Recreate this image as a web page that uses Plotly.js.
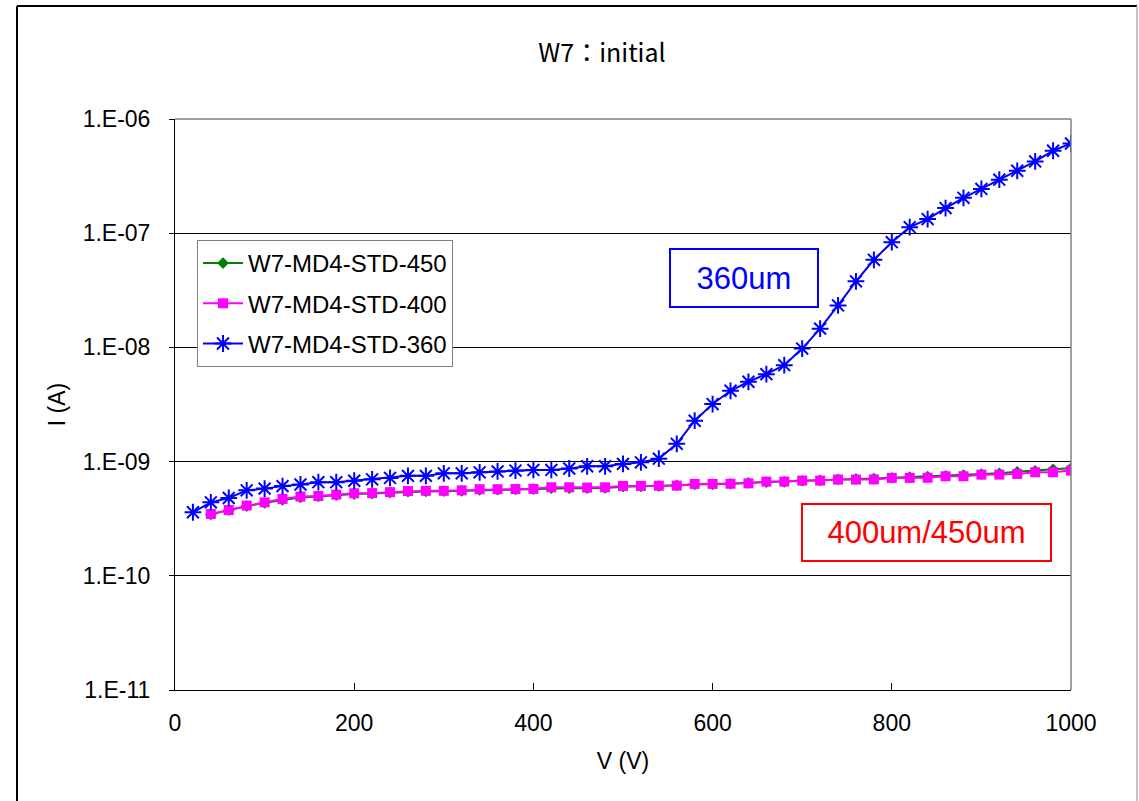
<!DOCTYPE html>
<html>
<head>
<meta charset="utf-8">
<script src="https://cdn.plot.ly/plotly-3.0.1.min.js"></script>
<style>
  html, body { margin: 0; padding: 0; background: #fff; }
  #chart { width: 1139px; height: 801px; }
</style>
</head>
<body>
<div id="chart"></div>
<script>
// ---- data ----
const voltsA = [40,60,80,100,120,140,160,180,200,220,240,260,280,300,320,340,360,380,400,420,440,460,480,500,520,540,560,580,600,620,640,660,680,700,720,740,760,780,800,820,840,860,880,900,920,940,960,980,1000];
const voltsB = [20,40,60,80,100,120,140,160,180,200,220,240,260,280,300,320,340,360,380,400,420,440,460,480,500,520,540,560,580,600,620,640,660,680,700,720,740,760,780,800,820,840,860,880,900,920,940,960,980,1000];

const current450 = [3.45e-10,3.75e-10,4.08e-10,4.35e-10,4.62e-10,4.85e-10,4.95e-10,5.08e-10,5.20e-10,5.25e-10,5.35e-10,5.45e-10,5.48e-10,5.50e-10,5.55e-10,5.65e-10,5.68e-10,5.70e-10,5.75e-10,5.85e-10,5.85e-10,5.85e-10,5.88e-10,6.02e-10,6.05e-10,6.10e-10,6.20e-10,6.30e-10,6.32e-10,6.40e-10,6.52e-10,6.62e-10,6.65e-10,6.80e-10,6.85e-10,6.98e-10,7.05e-10,7.10e-10,7.22e-10,7.30e-10,7.38e-10,7.50e-10,7.62e-10,7.78e-10,7.90e-10,8.15e-10,8.30e-10,8.55e-10,8.75e-10];

const current400 = [3.48e-10,3.77e-10,4.12e-10,4.40e-10,4.71e-10,4.94e-10,5.00e-10,5.14e-10,5.28e-10,5.30e-10,5.40e-10,5.53e-10,5.55e-10,5.55e-10,5.60e-10,5.73e-10,5.73e-10,5.75e-10,5.77e-10,5.96e-10,5.95e-10,5.92e-10,5.95e-10,6.12e-10,6.13e-10,6.15e-10,6.16e-10,6.38e-10,6.38e-10,6.40e-10,6.45e-10,6.68e-10,6.68e-10,6.82e-10,6.82e-10,6.96e-10,6.96e-10,6.98e-10,7.20e-10,7.20e-10,7.22e-10,7.44e-10,7.44e-10,7.69e-10,7.69e-10,7.80e-10,8.07e-10,8.07e-10,8.34e-10];

const current360 = [3.6e-10,4.4e-10,4.8e-10,5.6e-10,5.8e-10,6.1e-10,6.3e-10,6.6e-10,6.6e-10,6.8e-10,7.0e-10,7.2e-10,7.5e-10,7.5e-10,7.9e-10,7.9e-10,8.05e-10,8.2e-10,8.35e-10,8.45e-10,8.45e-10,8.7e-10,9.1e-10,9.1e-10,9.55e-10,9.85e-10,1.06e-9,1.43e-9,2.28e-9,3.19e-9,4.17e-9,5.0e-9,5.83e-9,6.99e-9,9.77e-9,1.46e-8,2.33e-8,3.79e-8,5.85e-8,8.34e-8,1.13e-7,1.33e-7,1.66e-7,2.04e-7,2.44e-7,2.94e-7,3.52e-7,4.25e-7,5.27e-7,6.1e-7];

const seriesNames = ["W7-MD4-STD-450", "W7-MD4-STD-400", "W7-MD4-STD-360"];
const yTickVals = [1e-11, 1e-10, 1e-9, 1e-8, 1e-7, 1e-6];
const yTickText = ["1.E-11", "1.E-10", "1.E-09", "1.E-08", "1.E-07", "1.E-06"];
const xTickVals = [0, 200, 400, 600, 800, 1000];
const xTickText = ["0", "200", "400", "600", "800", "1000"];
const chartTitle = "W7：initial";
const xTitle = "V (V)";
const yTitle = "I (A)";
const note360 = "360um";
const note400450 = "400um/450um";

// ---- traces ----
const traces = [
  {
    x: voltsA, y: current450, name: seriesNames[0], type: "scatter", mode: "lines+markers",
    legendgroup: "g1",
    line: { color: "#008000", width: 2 },
    marker: { symbol: "diamond", size: 9, color: "#008000" }
  },
  {
    x: voltsA, y: current400, name: seriesNames[1], type: "scatter", mode: "lines+markers",
    legendgroup: "g2",
    line: { color: "#FF00FF", width: 2 },
    marker: { symbol: "square", size: 10, color: "#FF00FF" }
  },
  {
    x: voltsB, y: current360, name: seriesNames[2], type: "scatter", mode: "lines+markers",
    legendgroup: "g3",
    line: { color: "#0000FF", width: 2 },
    marker: { symbol: "asterisk-open", size: 14, color: "#0000FF", line: { color: "#0000FF", width: 2 } }
  }
];

const baseFont = "Liberation Sans, Arial, sans-serif";

const layout = {
  width: 1139, height: 801,
  margin: { l: 175, r: 68, t: 119, b: 111 },
  paper_bgcolor: "#ffffff",
  plot_bgcolor: "#ffffff",
  font: { family: baseFont, color: "#000000", size: 22 },
  showlegend: true,
  title: {
    text: chartTitle,
    font: { family: "Noto Sans CJK JP, sans-serif", size: 25, color: "#000" },
    xref: "container", yref: "container",
    x: 602 / 1139, xanchor: "center",
    y: 1 - 53 / 801, yanchor: "middle"
  },
  xaxis: {
    type: "linear", range: [0, 1000],
    tickvals: xTickVals, ticktext: xTickText,
    ticks: "inside", ticklen: 7, tickcolor: "#000", tickwidth: 1,
    ticklabelstandoff: 12,
    showgrid: false, zeroline: false,
    showline: true, linecolor: "#000", linewidth: 1,
    tickfont: { size: 23, family: baseFont },
    title: { text: xTitle, font: { size: 23, family: baseFont }, standoff: 18 }
  },
  yaxis: {
    type: "log", range: [-11, -6],
    tickvals: yTickVals, ticktext: yTickText,
    ticks: "outside", ticklen: 5, tickcolor: "#000", tickwidth: 1,
    ticklabelstandoff: 14,
    showgrid: true, gridcolor: "#000", gridwidth: 1,
    zeroline: false,
    showline: true, linecolor: "#000", linewidth: 1,
    tickfont: { size: 23, family: baseFont },
    title: { text: yTitle, font: { size: 23, family: baseFont }, standoff: 10 }
  },
  legend: {
    x: (197 - 175) / 896, y: (690 - 240) / 571,
    xanchor: "left", yanchor: "top",
    bgcolor: "#ffffff", bordercolor: "#808080", borderwidth: 1,
    font: { size: 24, family: baseFont, color: "#000" },
    traceorder: "grouped", tracegroupgap: 6,
    itemwidth: 40
  },
  shapes: [
    // plot area border (top/right grey)
    { type: "line", xref: "paper", yref: "paper", x0: 0, x1: 1, y0: 1, y1: 1, line: { color: "#808080", width: 1.5 } },
    { type: "line", xref: "paper", yref: "paper", x0: 1, x1: 1, y0: 0, y1: 1, line: { color: "#808080", width: 1.5 } },
    // outer chart border
    { type: "line", xref: "paper", yref: "paper", x0: (17 - 175) / 896, x1: (1137 - 175) / 896, y0: (690 - 6) / 571, y1: (690 - 6) / 571, line: { color: "#000", width: 2 } },
    { type: "line", xref: "paper", yref: "paper", x0: (17 - 175) / 896, x1: (17 - 175) / 896, y0: (690 - 6) / 571, y1: (690 - 805) / 571, line: { color: "#000", width: 2 } },
    { type: "line", xref: "paper", yref: "paper", x0: (1137 - 175) / 896, x1: (1137 - 175) / 896, y0: (690 - 6) / 571, y1: (690 - 805) / 571, line: { color: "#b0b0b0", width: 1.5 } }
  ],
  annotations: [
    {
      text: note360, xref: "paper", yref: "paper",
      x: (744 - 175) / 896, y: (690 - 278) / 571, xanchor: "center", yanchor: "middle",
      showarrow: false,
      font: { size: 31, color: "#0000FF", family: baseFont },
      bordercolor: "#0000FF", borderwidth: 2, borderpad: 0,
      width: 146, height: 56, bgcolor: "#ffffff"
    },
    {
      text: note400450, xref: "paper", yref: "paper",
      x: (926.5 - 175) / 896, y: (690 - 532.5) / 571, xanchor: "center", yanchor: "middle",
      showarrow: false,
      font: { size: 31, color: "#FF0000", family: baseFont },
      bordercolor: "#FF0000", borderwidth: 2, borderpad: 0,
      width: 247, height: 55, bgcolor: "#ffffff"
    }
  ]
};

Plotly.newPlot("chart", traces, layout, { displayModeBar: false, responsive: false });
</script>
</body>
</html>
